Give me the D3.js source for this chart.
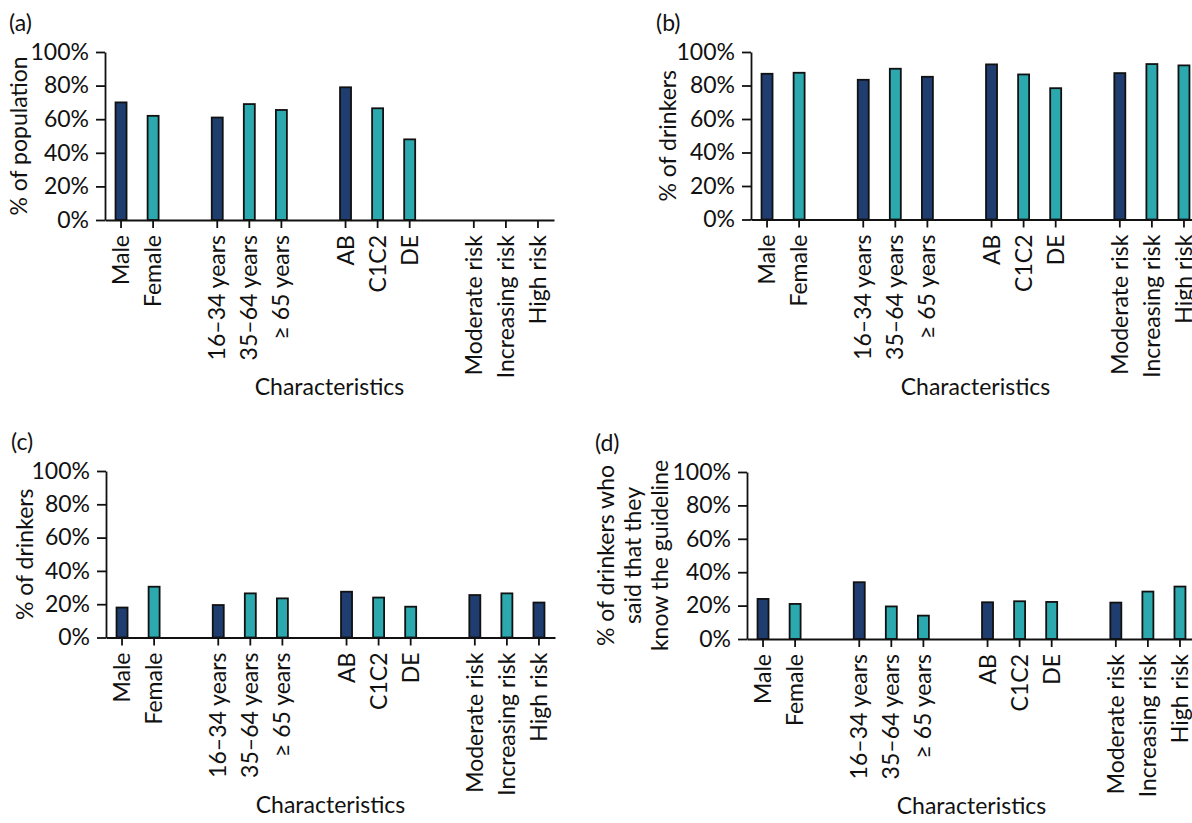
<!DOCTYPE html>
<html>
<head>
<meta charset="utf-8">
<script src="https://cdn.jsdelivr.net/npm/d3@7"></script>
<style>
  body { margin: 0; background: #fff; }
  svg { display: block; font-family: Lato, "Open Sans", sans-serif; }
</style>
</head>
<body>
<div id="chart"></div>
<script>
//DATA
const categories = ["Male", "Female", "16–34 years", "35–64 years", "≥ 65 years",
    "AB", "C1C2", "DE", "Moderate risk", "Increasing risk", "High risk"];
// slot order along the axis, empty slots separate the groups
const slots = ["Male", "Female", "gap1", "16–34 years", "35–64 years", "≥ 65 years",
    "gap2", "AB", "C1C2", "DE", "gap3", "Moderate risk", "Increasing risk", "High risk"];

const valuesA = [70, 62, 61, 69, 65.5, 79, 66.5, 48, null, null, null];
const valuesB = [87, 87.6, 83.4, 90, 85.2, 92.6, 86.6, 78.4, 87.4, 92.8, 92];
const valuesC = [18, 30.5, 19.5, 26.5, 23.5, 27.5, 24, 18.5, 25.5, 26.5, 21];
const valuesD = [24, 21, 34, 19.5, 14, 22, 22.6, 22.2, 21.8, 28.4, 31.4];

const shadeA = ["dark", "teal", "dark", "teal", "teal", "dark", "teal", "teal", "dark", "teal", "teal"];
const shadeB = ["dark", "teal", "dark", "teal", "dark", "dark", "teal", "teal", "dark", "teal", "teal"];
const shadeC = ["dark", "teal", "dark", "teal", "teal", "dark", "teal", "teal", "dark", "teal", "dark"];
const shadeD = ["dark", "teal", "dark", "teal", "teal", "dark", "teal", "teal", "dark", "teal", "teal"];

const yTicks = [0, 20, 40, 60, 80, 100];

//COLORS
const COLORS = { dark: "#1f3e6f", teal: "#2ca9af" };
const FONT = 23;

//LAYOUT
const width = 1192, height = 823;
const panels = [
    { tag: "(a)", values: valuesA, shades: shadeA, yLabel: ["% of population"],
      left: 105, top: 52, bottom: 220, tagX: 9, tagY: 31, labelX: 27 },
    { tag: "(b)", values: valuesB, shades: shadeB, yLabel: ["% of drinkers"],
      left: 751, top: 52, bottom: 219.5, tagX: 656, tagY: 31, labelX: 676 },
    { tag: "(c)", values: valuesC, shades: shadeC, yLabel: ["% of drinkers"],
      left: 106, top: 471, bottom: 637.5, tagX: 11, tagY: 450, labelX: 33 },
    { tag: "(d)", values: valuesD, shades: shadeD,
      yLabel: ["% of drinkers who", "said that they", "know the guideline"],
      left: 747, top: 472, bottom: 639, tagX: 595, tagY: 451, labelX: 614 }
];

const svg = d3.select("#chart")
    .append("svg")
    .attr("width", width)
    .attr("height", height);

panels.forEach(p => {
    const g = svg.append("g");

    const x = d3.scaleBand()
        .domain(slots)
        .range([p.left, p.left + 449])
        .padding(0);

    const y = d3.scaleLinear()
        .domain([0, 100])
        .range([p.bottom, p.top]);

    //BARS
    const rows = categories.map((c, i) => ({ cat: c, value: p.values[i], shade: p.shades[i] }))
        .filter(d => d.value != null);
    const barW = 11;

    g.append("g")
        .selectAll("rect")
        .data(rows)
        .enter()
        .append("rect")
        .attr("x", d => x(d.cat) + x.bandwidth() / 2 - barW / 2)
        .attr("y", d => y(d.value))
        .attr("width", barW)
        .attr("height", d => y(0) - y(d.value))
        .attr("fill", d => COLORS[d.shade])
        .attr("stroke", "#111")
        .attr("stroke-width", 1.8);

    //AXES
    const xAxis = g.append("g")
        .attr("transform", `translate(0,${p.bottom})`)
        .call(d3.axisBottom(x).tickValues(categories).tickSize(8).tickSizeOuter(0));
    xAxis.selectAll("text")
        .attr("transform", "rotate(-90)")
        .attr("text-anchor", "end")
        .attr("x", -15)
        .attr("y", 0)
        .attr("dy", "0.35em");

    const yAxis = g.append("g")
        .attr("transform", `translate(${p.left},0)`)
        .call(d3.axisLeft(y).tickValues(yTicks).tickFormat(d => d + "%")
            .tickSize(9).tickSizeOuter(0).tickPadding(7));

    [xAxis, yAxis].forEach(a => {
        a.attr("font-size", FONT).attr("font-family", "Lato");
        a.selectAll("path, line").attr("stroke", "#111").attr("stroke-width", 1.8);
        a.selectAll("text").attr("fill", "#111");
    });

    //LABELS
    g.append("text")
        .attr("x", p.left + 449 / 2)
        .attr("y", p.bottom + 175)
        .attr("text-anchor", "middle")
        .attr("font-size", FONT)
        .attr("fill", "#111")
        .text("Characteristics");

    const mid = (p.top + p.bottom) / 2;
    p.yLabel.forEach((line, i) => {
        g.append("text")
            .attr("transform", `translate(${p.labelX + i * 27},${mid}) rotate(-90)`)
            .attr("text-anchor", "middle")
            .attr("font-size", FONT)
            .attr("fill", "#111")
            .text(line);
    });

    g.append("text")
        .attr("x", p.tagX)
        .attr("y", p.tagY)
        .attr("font-size", FONT)
        .attr("fill", "#111")
        .text(p.tag);
});
</script>
</body>
</html>
